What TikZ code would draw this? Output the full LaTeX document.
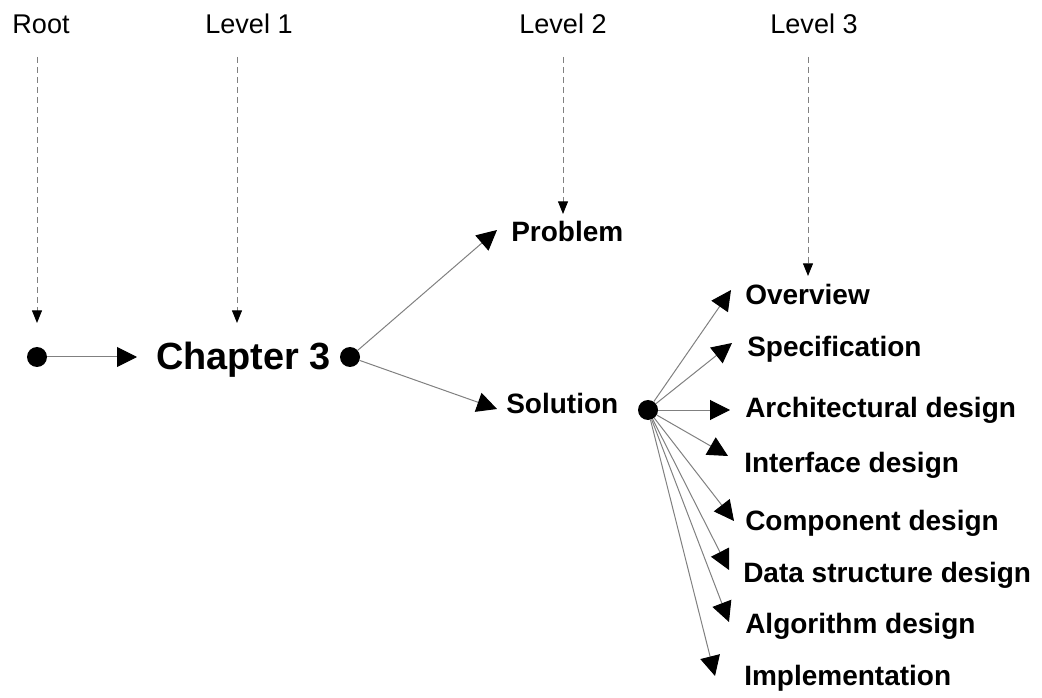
\documentclass[tikz,border=0pt]{standalone}
\usepackage{fontspec}
\setmainfont{Liberation Sans}
\usetikzlibrary{arrows.meta}
\begin{document}
\begin{tikzpicture}[x=0.75pt,y=-0.75pt,
  dot/.style={circle,fill=black,inner sep=0pt,minimum size=15pt},
  lvl/.style={font=\fontsize{20.3}{24}\selectfont,inner sep=0pt,anchor=base},
  item/.style={font=\bfseries\fontsize{21}{24}\selectfont,inner sep=0pt,anchor=base west},
  link/.style={gray,line width=0.75pt,-{Triangle[length=15pt,width=15pt,color=black]}},
  guide/.style={gray,line width=0.75pt,dash pattern=on 4.5pt off 3pt,-{Triangle[length=9.5pt,width=7.5pt,color=black]}}
]
\useasboundingbox (0,0) rectangle (1042,698);

% level headings
\node[lvl] (lroot) at (41,34) {Root};
\node[lvl] (l1) at (249,34) {Level 1};
\node[lvl] (l2) at (563,34) {Level 2};
\node[lvl] (l3) at (814,34) {Level 3};

% tree nodes
\node[dot] (rootdot) at (37,357) {};
\node[font=\bfseries\fontsize{28.4}{32}\selectfont,inner sep=0pt,anchor=base west] (ch) at (156,370) {Chapter 3};
\node[dot] (chdot) at (350,357) {};
\node[item] (prob) at (511,242) {Problem};
\node[item] (sol) at (506,413) {Solution};
\node[dot] (soldot) at (648,410) {};

\node[item] (i1) at (745,305) {Overview};
\node[item] (i2) at (747,357) {Specification};
\node[item] (i3) at (745,417) {Architectural design};
\node[item] (i4) at (744,472) {Interface design};
\node[item] (i5) at (745,530) {Component design};
\node[item] (i6) at (743,582) {Data structure design};
\node[item] (i7) at (745,633) {Algorithm design};
\node[item] (i8) at (744,685) {Implementation};

% arrow tips
\coordinate (tch) at (137,357);
\coordinate (tprob) at (497,230);
\coordinate (tsol) at (497,409);
\coordinate (t1) at (731,290);
\coordinate (t2) at (732,343);
\coordinate (t3) at (730,410);
\coordinate (t4) at (728,456);
\coordinate (t5) at (734,521);
\coordinate (t6) at (729,570);
\coordinate (t7) at (729,622);
\coordinate (t8) at (715,676);

% dashed level guides
\coordinate (g0s) at (37,57);   \coordinate (g0e) at (37,323);
\coordinate (g1s) at (237,57);  \coordinate (g1e) at (237,323);
\coordinate (g2s) at (563,57);  \coordinate (g2e) at (563,214);
\coordinate (g3s) at (808,57);  \coordinate (g3e) at (808,276);
\draw[guide] (g0s) -- (g0e);
\draw[guide] (g1s) -- (g1e);
\draw[guide] (g2s) -- (g2e);
\draw[guide] (g3s) -- (g3e);

% connectors
\draw[link] (rootdot) -- (tch);
\draw[link] (chdot) -- (tprob);
\draw[link] (chdot) -- (tsol);
\foreach \t in {t1,t2,t3,t4,t5,t6,t7,t8}
  \draw[link] (soldot) -- (\t);
\end{tikzpicture}
\end{document}
